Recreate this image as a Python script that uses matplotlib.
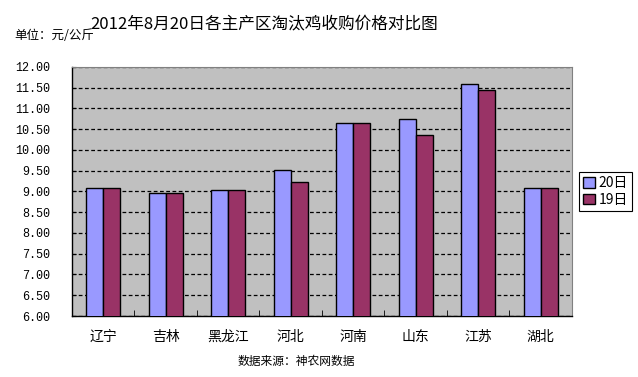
import matplotlib
matplotlib.use("Agg")
import matplotlib.pyplot as plt
import numpy as np

plt.rcParams["font.family"] = ["Noto Sans CJK SC", "DejaVu Sans"]

regions = ["辽宁", "吉林", "黑龙江", "河北", "河南", "山东", "江苏", "湖北"]
price_20 = [9.08, 8.96, 9.03, 9.51, 10.64, 10.74, 11.58, 9.08]
price_19 = [9.08, 8.96, 9.03, 9.22, 10.64, 10.35, 11.44, 9.08]
yticks = np.arange(6.0, 12.01, 0.5)

fig = plt.figure(figsize=(6.38, 3.77), dpi=100)
ax = fig.add_axes([0.1129, 0.1618, 0.7833, 0.6605])
ax.set_facecolor("#C0C0C0")

x = np.arange(len(regions))
w = 0.272
ax.bar(x - w / 2, price_20, w, bottom=0, color="#9999FF", edgecolor="black",
       linewidth=1.0, label="20日", zorder=3)
ax.bar(x + w / 2, price_19, w, bottom=0, color="#993366", edgecolor="black",
       linewidth=1.0, label="19日", zorder=3)

ax.set_ylim(6, 12)
ax.set_xlim(-0.5, len(regions) - 0.5)
ax.set_yticks(yticks)
ax.set_yticklabels([f"{v:.2f}" for v in yticks], family="Liberation Mono", fontsize=8.5)
ax.yaxis.grid(True, color="black", linestyle=(0, (3, 2)), linewidth=0.9, zorder=1)
ax.tick_params(axis="y", length=3, direction="in", pad=16)

ax.set_xticks(x)
ax.set_xticklabels(regions, fontsize=10)
ax.set_xticks(np.arange(-0.5, len(regions)), minor=True)
ax.tick_params(axis="x", which="major", length=0, pad=10)
ax.tick_params(axis="x", which="minor", length=4, direction="in")

for side in ["top", "right"]:
    ax.spines[side].set_color("#808080")
    ax.spines[side].set_linestyle((0, (1, 1)))
    ax.spines[side].set_linewidth(0.8)
for side in ["left", "bottom"]:
    ax.spines[side].set_color("black")
    ax.spines[side].set_linewidth(1.0)

leg = ax.legend(loc="center left", bbox_to_anchor=(1.015, 0.5), fontsize=10,
                frameon=True, fancybox=False, edgecolor="black", framealpha=1,
                handlelength=0.8, handleheight=0.8, handletextpad=0.3,
                borderpad=0.3, labelspacing=0.2, borderaxespad=0)
leg.get_frame().set_linewidth(0.8)

fig.text(0.414, 0.937, "2012年8月20日各主产区淘汰鸡收购价格对比图", ha="center",
         va="center", fontsize=12, fontweight="light")
fig.text(0.022, 0.905, "单位：元/公斤", ha="left", va="center", fontsize=9)
fig.text(0.464, 0.042, "数据来源：神农网数据", ha="center", va="center", fontsize=8.5)

fig.savefig("out.png", dpi=100)
